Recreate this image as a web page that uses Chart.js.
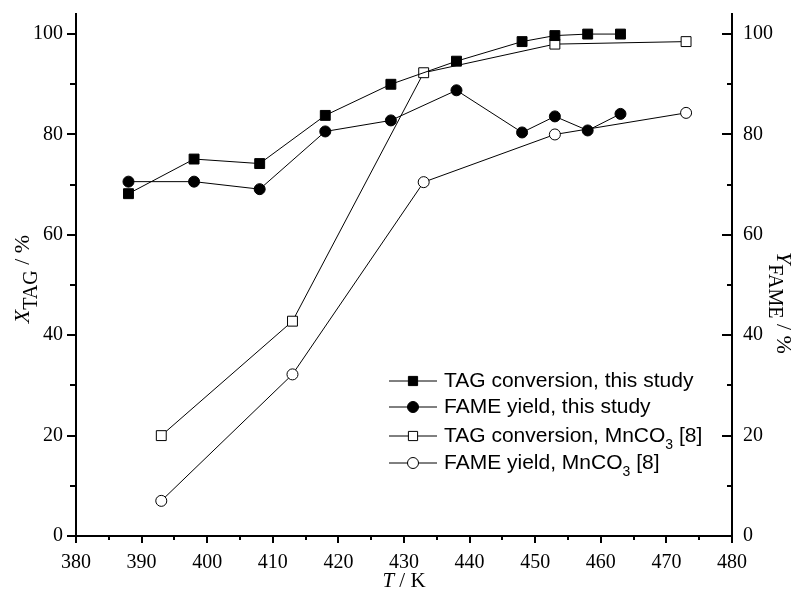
<!DOCTYPE html>
<html><head><meta charset="utf-8">
<script src="https://cdn.jsdelivr.net/npm/chart.js@4.4.0/dist/chart.umd.min.js"></script>
<style>html,body{margin:0;padding:0;background:#fff}#wrap{width:795px;height:589px;position:relative}</style>
</head><body><div id="wrap"><canvas id="c" width="795" height="589"></canvas></div>
<script>
// ---- data ----
const tempStudy = [388, 398, 408, 418, 428, 438, 448, 453, 458, 463];
const tagStudy  = [68.2, 75.1, 74.2, 83.8, 90.0, 94.6, 98.5, 99.7, 100.0, 100.0];
const fameStudy = [70.6, 70.6, 69.1, 80.6, 82.8, 88.8, 80.4, 83.6, 80.8, 84.1];
const tempMnCO3 = [393, 413, 433, 453, 473];
const tagMnCO3  = [20.0, 42.8, 92.3, 98.0, 98.5];
const fameMnCO3 = [7.0, 32.2, 70.5, 80.0, 84.3];
const xTicks = [380, 390, 400, 410, 420, 430, 440, 450, 460, 470, 480];
const xMinorTicks = [385, 395, 405, 415, 425, 435, 445, 455, 465, 475];
const yTicks = [0, 20, 40, 60, 80, 100];
const yMinorTicks = [10, 30, 50, 70, 90];
const legendLabels = [
  ["TAG conversion, this study"],
  ["FAME yield, this study"],
  ["TAG conversion, MnCO", "3", " [8]"],
  ["FAME yield, MnCO", "3", " [8]"]
];
const xTitle = ["T", " / K"];
const yTitle = ["X", "TAG", " / %"];
const y2Title = ["Y", "FAME", " / %"];

const pts = (xs, ys) => xs.map((x, i) => ({x: x, y: ys[i]}));
const SERIF = '"Liberation Serif", "Times New Roman", serif';
const SANS = '"Liberation Sans", Arial, sans-serif';

const datasets = [
  {label: legendLabels[0].join(''), data: pts(tempStudy, tagStudy), yAxisID: 'y',
   pointStyle: 'rect', pointRadius: 7, backgroundColor: '#000', borderColor: '#000'},
  {label: legendLabels[1].join(''), data: pts(tempStudy, fameStudy), yAxisID: 'y2',
   pointStyle: 'circle', pointRadius: 5.5, backgroundColor: '#000', borderColor: '#000'},
  {label: legendLabels[2].join(''), data: pts(tempMnCO3, tagMnCO3), yAxisID: 'y',
   pointStyle: 'rect', pointRadius: 7, backgroundColor: '#fff', borderColor: '#000'},
  {label: legendLabels[3].join(''), data: pts(tempMnCO3, fameMnCO3), yAxisID: 'y2',
   pointStyle: 'circle', pointRadius: 5.5, backgroundColor: '#fff', borderColor: '#000'}
].map(d => Object.assign({borderWidth: 1, pointBorderWidth: 1, tension: 0, fill: false,
  pointBackgroundColor: d.backgroundColor, pointBorderColor: '#000'}, d));

function setTicks(list) { return s => { s.ticks = list.map(v => ({value: v})); }; }

function drawParts(ctx, parts, mainFont, subFont, subShift) {
  let total = 0;
  const fonts = [];
  parts.forEach((p, i) => {
    const f = (i === 1) ? subFont : (i === 0 ? 'italic ' + mainFont : mainFont);
    fonts.push(f);
    ctx.font = f; total += ctx.measureText(p).width;
  });
  let x = -total / 2;
  parts.forEach((p, i) => {
    ctx.font = fonts[i];
    ctx.fillText(p, x, i === 1 ? subShift : 0);
    x += ctx.measureText(p).width;
  });
}

const decor = {
  id: 'decor',
  afterDraw(chart) {
    const ctx = chart.ctx;
    const sx = chart.scales.x, sy = chart.scales.y, sy2 = chart.scales.y2;
    ctx.save();
    ctx.strokeStyle = '#000';
    ctx.fillStyle = '#000';
    ctx.lineWidth = 2;
    const line = (x1, y1, x2, y2) => { ctx.beginPath(); ctx.moveTo(x1, y1); ctx.lineTo(x2, y2); ctx.stroke(); };
    const xb = sy.bottom;
    xTicks.forEach(v => { const p = Math.round(sx.getPixelForValue(v)); line(p, xb, p, xb + 7); });
    xMinorTicks.forEach(v => { const p = Math.round(sx.getPixelForValue(v)); line(p, xb, p, xb + 4); });
    const yl = sx.left;
    yTicks.forEach(v => { const p = Math.round(sy.getPixelForValue(v)); line(yl, p, yl - 9, p); });
    yMinorTicks.forEach(v => { const p = Math.round(sy.getPixelForValue(v)); line(yl, p, yl - 6, p); });
    const yr = sx.right;
    yTicks.forEach(v => { const p = Math.round(sy2.getPixelForValue(v)); line(yr, p, yr - 10, p); });
    yMinorTicks.forEach(v => { const p = Math.round(sy2.getPixelForValue(v)); line(yr, p, yr - 5, p); });

    ctx.textBaseline = 'alphabetic';
    ctx.textAlign = 'left';
    ctx.save();
    ctx.translate((sx.left + sx.right) / 2, 587);
    drawParts(ctx, [xTitle[0], '', xTitle[1]], '21px ' + SERIF, '18px ' + SERIF, 0);
    ctx.restore();
    ctx.save();
    ctx.translate(29, 279);
    ctx.rotate(-Math.PI / 2);
    drawParts(ctx, yTitle, '22px ' + SERIF, '20px ' + SERIF, 8);
    ctx.restore();
    ctx.save();
    ctx.translate(777, 303);
    ctx.rotate(Math.PI / 2);
    drawParts(ctx, y2Title, '22px ' + SERIF, '20px ' + SERIF, 8);
    ctx.restore();

    const rows = [381, 407, 436, 463];
    chart.data.datasets.forEach((ds, i) => {
      const yy = rows[i];
      ctx.lineWidth = 1;
      ctx.strokeStyle = '#000';
      line(389, yy, 437, yy);
      ctx.fillStyle = ds.pointBackgroundColor;
      ctx.strokeStyle = '#000';
      ctx.lineWidth = 1;
      Chart.helpers.drawPoint(ctx, {pointStyle: ds.pointStyle, radius: ds.pointStyle === 'rect' ? 6.5 : 5.5, rotation: 0, borderWidth: 1}, 413, yy);
      ctx.fillStyle = '#000';
      ctx.textBaseline = 'middle';
      let x = 444;
      legendLabels[i].forEach((t, j) => {
        ctx.font = (j === 1 ? '14px ' : '21px ') + SANS;
        ctx.fillText(t, x, j === 1 ? yy + 9 : yy);
        x += ctx.measureText(t).width;
      });
    });
    ctx.restore();
  }
};

const fitY = w => s => { s.width = w; s.paddingTop = 0; s.paddingBottom = 0; };

new Chart(document.getElementById('c'), {
  type: 'line',
  data: {datasets: datasets},
  plugins: [decor],
  options: {
    responsive: false, animation: false, devicePixelRatio: 1,
    layout: {padding: {top: 14, left: 0, right: 0, bottom: 0}},
    plugins: {legend: {display: false}, tooltip: {enabled: false}},
    scales: {
      x: {type: 'linear', position: 'bottom', min: 380, max: 480,
          afterBuildTicks: setTicks(xTicks), afterFit: s => { s.height = 53; s.paddingLeft = 0; s.paddingRight = 0; },
          grid: {display: false, drawTicks: false},
          border: {display: true, color: '#000', width: 2},
          ticks: {color: '#000', font: {family: SERIF, size: 20}, padding: 15, maxRotation: 0, autoSkip: false}},
      y: {type: 'linear', position: 'left', min: 0, max: 104,
          afterBuildTicks: setTicks(yTicks), afterFit: fitY(76),
          grid: {display: false, drawTicks: false},
          border: {display: true, color: '#000', width: 2},
          ticks: {color: '#000', font: {family: SERIF, size: 20}, padding: 13}},
      y2: {type: 'linear', position: 'right', min: 0, max: 104,
          afterBuildTicks: setTicks(yTicks), afterFit: fitY(63),
          grid: {display: false, drawTicks: false},
          border: {display: true, color: '#000', width: 2},
          ticks: {color: '#000', font: {family: SERIF, size: 20}, padding: 11}}
    }
  }
});
</script>
</body></html>
